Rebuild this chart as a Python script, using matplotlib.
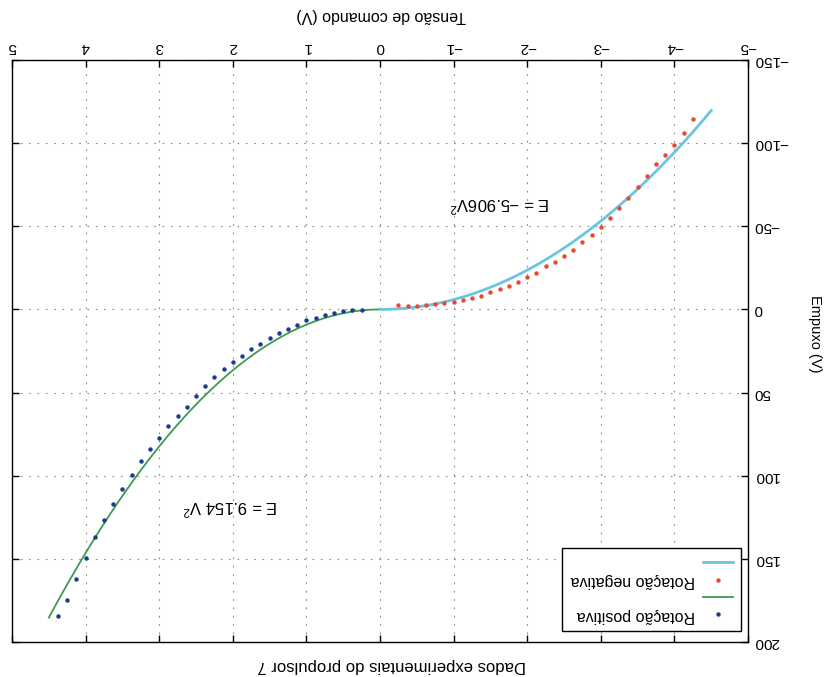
import numpy as np
import matplotlib
matplotlib.use('Agg')
import matplotlib.pyplot as plt
from matplotlib.lines import Line2D

plt.rcParams['font.family'] = ['Liberation Sans', 'DejaVu Sans']
plt.rcParams['mathtext.fontset'] = 'custom'
plt.rcParams['mathtext.rm'] = 'Liberation Sans'
plt.rcParams['mathtext.it'] = 'Liberation Sans'
plt.rcParams['mathtext.bf'] = 'Liberation Sans:bold'

# ---------------- data ----------------
V_pos = [0.25, 0.375, 0.5, 0.625, 0.75, 0.875, 1.0, 1.125, 1.25, 1.375,
         1.5, 1.625, 1.75, 1.875, 2.0, 2.125, 2.25, 2.375, 2.5, 2.625,
         2.75, 2.875, 3.0, 3.125, 3.25, 3.375, 3.5, 3.625, 3.75, 3.875,
         4.0, 4.125, 4.25, 4.375]
E_pos = [0.3, 0.6, 1.0, 2.4, 3.4, 5.0, 6.6, 9.4, 11.6, 14.0,
         17.0, 20.9, 23.9, 27.9, 31.9, 35.9, 40.9, 46.3, 51.9, 58.4,
         63.8, 70.2, 77.2, 84.2, 91.3, 99.3, 107.7, 117.2, 126.6, 137.0,
         149.2, 161.9, 174.9, 184.5]

V_neg = [-0.25, -0.375, -0.5, -0.625, -0.75, -0.875, -1.0, -1.125, -1.25,
         -1.375, -1.5, -1.625, -1.75, -1.875, -2.0, -2.125, -2.25, -2.375,
         -2.5, -2.625, -2.75, -2.875, -3.0, -3.125, -3.25, -3.375, -3.5,
         -3.625, -3.75, -3.875, -4.0, -4.125, -4.25]
E_neg = [-2.6, -2.0, -2.0, -2.4, -3.3, -4.1, -4.7, -5.7, -6.7,
         -8.2, -10.2, -12.2, -14.3, -16.7, -19.8, -22.2, -25.9, -28.8,
         -32.2, -35.7, -40.4, -44.5, -49.6, -55.1, -60.8, -67.3, -73.9,
         -80.2, -87.4, -92.6, -98.8, -106.0, -114.5]

# fitted models shown on the chart: E = k * V^2
K_POS = 9.154
K_NEG = -5.906
V_FIT_MAX_POS = 4.5
V_FIT_MIN_NEG = -4.5

x_ticks = [-5, -4, -3, -2, -1, 0, 1, 2, 3, 4, 5]
y_ticks = [-150, -100, -50, 0, 50, 100, 150, 200]

labels_legend = ['', 'Rotação negativa', '', 'Rotação positiva']
title_txt = 'Dados experimentais do propulsor 7'
xlabel_txt = 'Tensão de comando (V)'
ylabel_txt = 'Empuxo (V)'
eq_pos = r'E = 9.154 V$^{2}$'
eq_neg = r'E = −5.906V$^{2}$'

# ---------------- styles ----------------
c_blue = '#1c3b8c'
c_red = '#e8482f'
c_green = '#3d9a50'
c_cyan = '#6cc5e0'

fig = plt.figure(figsize=(8.25, 6.77), dpi=100)
ax = fig.add_axes([12 / 825, 35 / 677, 736 / 825, 582 / 677])

vp = np.linspace(0, V_FIT_MAX_POS, 200)
vn = np.linspace(V_FIT_MIN_NEG, 0, 200)
ax.plot(vp, K_POS * vp ** 2, color=c_green, lw=1.3, zorder=2)
ax.plot(vn, K_NEG * vn ** 2, color=c_cyan, lw=2.0, zorder=2)
ax.plot(V_pos, E_pos, 'o', ms=3.2, color=c_blue, mec='none', zorder=3)
ax.plot(V_neg, E_neg, 'o', ms=3.2, color=c_red, mec='none', zorder=3)

# the whole chart is shown rotated by 180 degrees
ax.set_xlim(5, -5)
ax.set_ylim(200, -150)
ax.set_xticks(x_ticks)
ax.set_yticks(y_ticks)
ax.tick_params(direction='in', length=5, width=1, top=True, bottom=True,
               left=True, right=True, labeltop=True, labelbottom=False,
               labelright=True, labelleft=False, labelsize=11,
               labelrotation=180, pad=4)
for lbl in ax.get_yticklabels():
    lbl.set_va('center')
ax.grid(True, color='#8a8a8a', linestyle=(0, (1.5, 6)), linewidth=0.8)
for s in ax.spines.values():
    s.set_linewidth(1.0)

ax.text(1.38, 119, eq_pos, rotation=180, ha='right', va='center', fontsize=12)
ax.text(-2.31, -63, eq_neg, rotation=180, ha='right', va='center', fontsize=12)

h_cyan = Line2D([], [], color=c_cyan, lw=2.0)
h_red = Line2D([], [], ls='none', marker='o', ms=3.2, color=c_red, mec='none')
h_green = Line2D([], [], color=c_green, lw=1.3)
h_blue = Line2D([], [], ls='none', marker='o', ms=3.2, color=c_blue, mec='none')
leg = ax.legend([h_cyan, h_red, h_green, h_blue], labels_legend,
                loc='lower right', bbox_to_anchor=(0.9905, 0.019),
                borderaxespad=0, markerfirst=False, fancybox=False,
                edgecolor='black', framealpha=1, fontsize=11.5,
                labelspacing=0.15, handlelength=1.9, handletextpad=0.5,
                borderpad=0.5, numpoints=1)
leg.get_frame().set_linewidth(1.0)
for t in leg.get_texts():
    t.set_rotation(180)

fig.text(381 / 825, 1 - 16 / 677, xlabel_txt, rotation=180, ha='center',
         va='center', fontsize=11.5)
fig.text(815 / 825, 1 - 333.5 / 677, ylabel_txt, rotation=270, ha='center',
         va='center', fontsize=10.5)
fig.text(392 / 825, 1 - 665 / 677, title_txt, rotation=180, ha='center',
         va='center', fontsize=12)

fig.savefig('out.png', dpi=100)
